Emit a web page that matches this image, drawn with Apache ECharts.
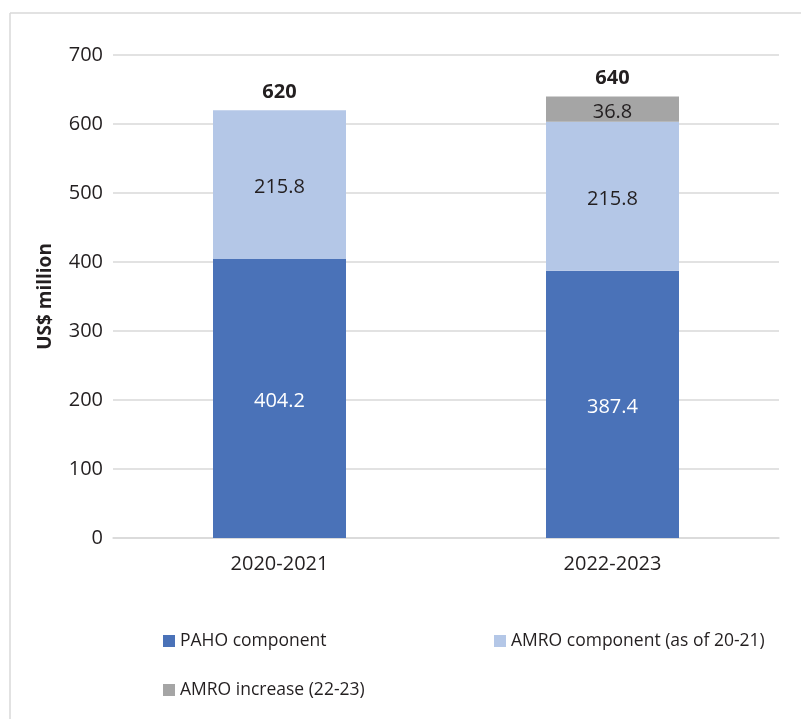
<!DOCTYPE html>
<html>
<head>
<meta charset="utf-8">
<script src="https://cdn.jsdelivr.net/npm/echarts@6/dist/echarts.min.js"></script>
<style>
  html, body { margin: 0; padding: 0; background: #ffffff; }
  #chart { width: 801px; height: 719px; }
</style>
</head>
<body>
<div id="chart"></div>
<script>
// Biennium budget, US$ million
const categories = ['2020-2021', '2022-2023'];
const pahoComponent = [404.2, 387.4];
const amroComponent = [215.8, 215.8];
const amroIncrease = [null, 36.8];
const totals = [620, 640];
const yTicks = { min: 0, max: 700, interval: 100 };

const FONT = '"Open Sans", "Noto Sans", sans-serif';
const TEXT = '#231f20';

const chart = echarts.init(document.getElementById('chart'), null, { renderer: 'canvas' });

function segLabel(color) {
  return {
    show: true,
    position: 'inside',
    offset: [0, 3],
    color: color,
    fontFamily: FONT,
    fontSize: 20,
    formatter: p => p.value.toFixed(1)
  };
}

const legendText = { fontFamily: FONT, fontSize: 17.5, color: TEXT };

chart.setOption({
  animation: false,
  backgroundColor: '#ffffff',
  graphic: [
    { type: 'line', shape: { x1: 10, y1: 13, x2: 801, y2: 13 }, style: { stroke: '#d9d9d9', lineWidth: 1.5 } },
    { type: 'line', shape: { x1: 10, y1: 13, x2: 10, y2: 719 }, style: { stroke: '#d9d9d9', lineWidth: 1.5 } }
  ],
  grid: { left: 113, right: 22, top: 55, bottom: 181 },
  legend: [
    {
      data: ['PAHO component'], left: 158, top: 627,
      icon: 'rect', itemWidth: 12, itemHeight: 12, itemGap: 0, itemTextGap: 5,
      textStyle: legendText, selectedMode: false
    },
    {
      data: ['AMRO component (as of 20-21)'], left: 489, top: 627,
      icon: 'rect', itemWidth: 12, itemHeight: 12, itemGap: 0, itemTextGap: 5,
      textStyle: legendText, selectedMode: false
    },
    {
      data: ['AMRO increase (22-23)'], left: 158, top: 676,
      icon: 'rect', itemWidth: 12, itemHeight: 12, itemGap: 0, itemTextGap: 5,
      textStyle: legendText, selectedMode: false
    }
  ],
  xAxis: {
    type: 'category',
    data: categories,
    axisLine: { show: true, lineStyle: { color: '#d9d9d9', width: 1.5 } },
    axisTick: { show: false },
    axisLabel: { fontFamily: FONT, fontSize: 20, color: TEXT, margin: 16 }
  },
  yAxis: {
    type: 'value',
    min: yTicks.min, max: yTicks.max, interval: yTicks.interval,
    name: 'US$ million',
    nameLocation: 'middle',
    nameRotate: 90,
    nameGap: 58,
    nameTextStyle: { fontFamily: FONT, fontSize: 19, fontWeight: 'bold', color: TEXT },
    axisLine: { show: false },
    axisTick: { show: false },
    axisLabel: { fontFamily: FONT, fontSize: 20, color: TEXT, margin: 10 },
    splitLine: { lineStyle: { color: '#d9d9d9', width: 1.5 } }
  },
  series: [
    {
      name: 'PAHO component', type: 'bar', stack: 'budget', barWidth: 133,
      data: pahoComponent, itemStyle: { color: '#4a72b8' },
      label: segLabel('#ffffff')
    },
    {
      name: 'AMRO component (as of 20-21)', type: 'bar', stack: 'budget', barWidth: 133,
      data: amroComponent, itemStyle: { color: '#b4c7e7' },
      label: segLabel(TEXT)
    },
    {
      name: 'AMRO increase (22-23)', type: 'bar', stack: 'budget', barWidth: 133,
      data: amroIncrease, itemStyle: { color: '#a5a5a5' },
      label: segLabel(TEXT)
    },
    {
      name: 'Total', type: 'bar', barWidth: 133, barGap: '-100%', z: 1, silent: true,
      data: totals, itemStyle: { color: 'rgba(0,0,0,0)' },
      label: {
        show: true, position: 'top', distance: 8,
        fontFamily: FONT, fontSize: 20, fontWeight: 'bold', color: TEXT
      }
    }
  ]
});
</script>
</body>
</html>
